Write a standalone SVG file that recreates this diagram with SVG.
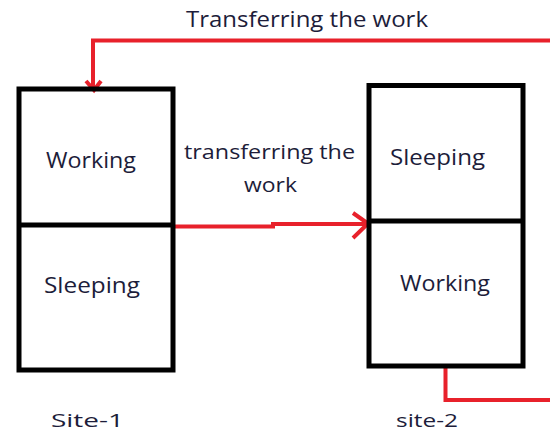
<svg xmlns="http://www.w3.org/2000/svg" width="550" height="432" viewBox="0 0 550 432">
<style>
.box{fill:none;stroke:#000;stroke-width:5}
.red{fill:none;stroke:#e8212b;stroke-width:4}
.t{font-family:"Open Sans","Liberation Sans",sans-serif;fill:#1d1d3a}
</style>
<rect width="550" height="432" fill="#fff"/>
<g id="connectors">
<path class="red" d="M550,40.5 H93 V88"/>
<path class="red" stroke-width="3" d="M86,81 L94,90 L101,81"/>
<path class="red" d="M173,226.5 H273 V224 H366"/>
<path class="red" stroke-width="2.5" d="M353,213 L368,223.5 L353,238"/>
<path class="red" d="M445.5,366 V400 H550"/>
</g>
<g id="site1">
<rect class="box" x="19" y="89" width="154" height="281"/>
<line class="box" x1="19" y1="225" x2="173" y2="225"/>
<text class="t" x="46" y="168" font-size="22" textLength="90" lengthAdjust="spacingAndGlyphs">Working</text>
<text class="t" x="44" y="292.5" font-size="22" textLength="96" lengthAdjust="spacingAndGlyphs">Sleeping</text>
<text class="t" x="51" y="427" font-size="19" textLength="73" lengthAdjust="spacingAndGlyphs">Site-1</text>
</g>
<g id="site2">
<rect class="box" x="369" y="85.5" width="154" height="280.5"/>
<line class="box" x1="369" y1="221" x2="523" y2="221"/>
<text class="t" x="390" y="165" font-size="22" textLength="95" lengthAdjust="spacingAndGlyphs">Sleeping</text>
<text class="t" x="400" y="290.5" font-size="22" textLength="90" lengthAdjust="spacingAndGlyphs">Working</text>
<text class="t" x="396" y="427" font-size="19" textLength="62" lengthAdjust="spacingAndGlyphs">site-2</text>
</g>
<g id="labels">
<text class="t" x="186" y="26.7" font-size="22" textLength="242" lengthAdjust="spacingAndGlyphs">Transferring the work</text>
<text class="t" x="184" y="159" font-size="20" textLength="171" lengthAdjust="spacingAndGlyphs">transferring the</text>
<text class="t" x="244" y="192" font-size="20" textLength="53" lengthAdjust="spacingAndGlyphs">work</text>
</g>
</svg>
